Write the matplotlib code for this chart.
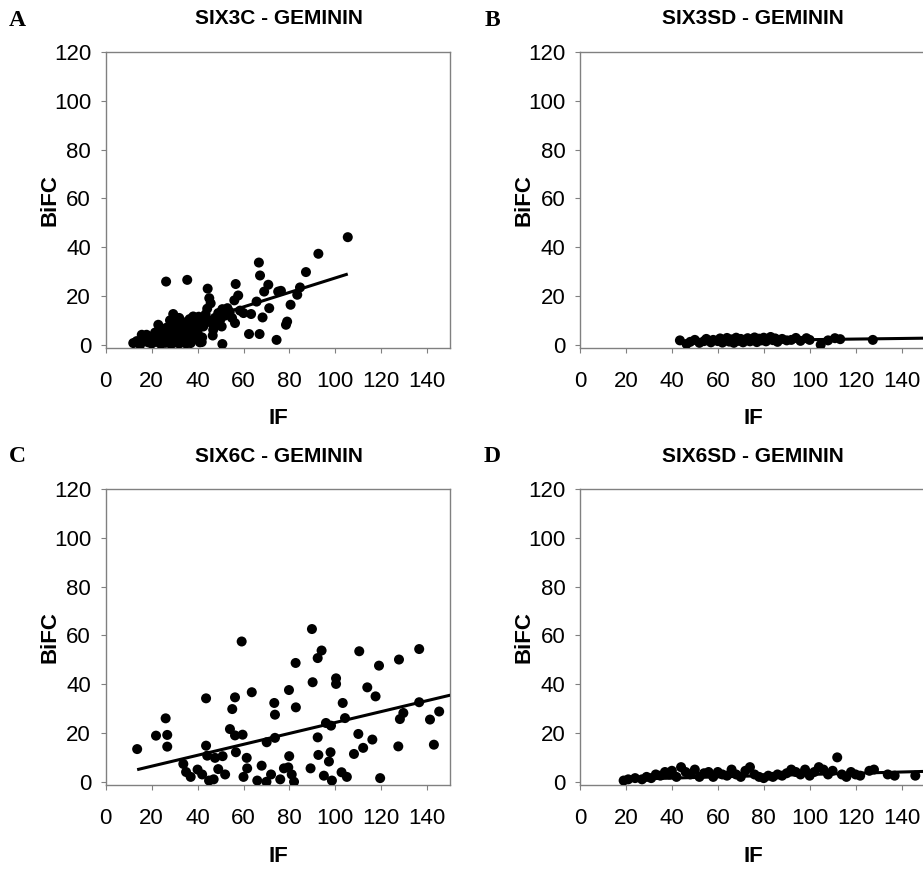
#!/usr/bin/env python3
"""BiFC versus IF scatter plots for four SIX constructs with GEMININ,
   each with a linear trendline, laid out as a 2x2 figure"""
import matplotlib.pyplot as plt

# panel A: SIX3C - GEMININ
six3c_if = [12.0, 13.5, 15.0, 15.7, 16.5, 17.8, 18.5, 19.5, 20.0, 21.0,
            21.5, 22.0, 22.9, 23.5, 24.0, 24.5, 25.0, 25.5, 26.3, 26.0,
            26.5, 27.0, 27.5, 28.0, 28.0, 28.5, 29.0, 29.4, 29.5, 30.0,
            30.5, 31.0, 31.0, 31.5, 32.0, 32.0, 32.5, 33.1, 33.5, 34.0,
            34.5, 35.0, 35.5, 35.5, 36.0, 36.5, 37.0, 37.5, 38.1, 38.5,
            39.0, 39.5, 40.0, 40.5, 41.0, 41.8, 42.0, 42.5, 43.0, 43.5,
            44.2, 44.4, 45.1, 45.7, 46.0, 46.6, 46.8, 47.5, 48.0, 49.0,
            50.0, 50.5, 50.8, 50.8, 52.0, 53.0, 54.0, 55.0, 56.0, 56.3,
            56.6, 57.7, 58.5, 60.0, 62.4, 63.3, 65.7, 66.7, 67.0, 67.2,
            68.3, 69.0, 70.8, 71.2, 75.1, 74.4, 76.3, 78.5, 79.0, 80.5,
            83.4, 84.6, 87.2, 92.6, 105.4]
six3c_bifc = [0.7, 1.5, 0.0, 4.1, 2.0, 4.1, 1.0, 3.0, 0.5, 2.5,
              5.0, 1.2, 8.2, 3.5, 0.3, 6.0, 2.0, 4.5, 25.9, 0.8,
              7.0, 3.0, 1.5, 10.0, 5.5, 0.2, 2.5, 12.6, 7.5, 4.0,
              1.0, 9.0, 6.0, 3.0, 0.5, 11.0, 7.0, 9.5, 2.0, 5.0,
              8.0, 0.5, 26.6, 3.5, 6.5, 10.5, 0.7, 4.5, 11.6, 7.0,
              2.5, 9.0, 5.0, 11.5, 1.0, 1.1, 3.0, 7.5, 10.0, 12.5,
              14.8, 23.0, 19.1, 17.0, 9.0, 3.8, 6.1, 11.0, 8.0, 13.0,
              10.5, 7.5, 0.3, 14.6, 12.0, 15.0, 13.5, 11.0, 18.2, 8.9,
              24.9, 20.2, 14.0, 13.0, 4.4, 12.6, 17.7, 33.7, 4.4, 28.4,
              11.2, 21.8, 24.6, 15.0, 21.8, 2.0, 22.1, 8.2, 9.5, 16.4,
              20.5, 23.5, 29.8, 37.3, 44.1]

# panel B: SIX3SD - GEMININ
six3sd_if = [43.5, 46.4, 48.0, 50.0, 52.0, 54.0, 55.0, 57.0, 58.0, 60.0,
             61.0, 62.0, 63.0, 64.0, 65.0, 66.0, 67.0, 68.0, 69.0, 70.0,
             71.0, 72.0, 73.0, 74.0, 75.0, 76.0, 77.0, 78.0, 79.0, 80.0,
             81.0, 82.0, 83.0, 84.0, 85.0, 86.0, 88.0, 90.0, 92.0, 94.0,
             96.0, 98.6, 100.0, 104.8, 108.0, 111.0, 113.3, 127.5]
six3sd_bifc = [1.8, 0.3, 1.2, 2.0, 0.8, 1.5, 2.4, 1.0, 2.0, 1.5,
               2.6, 0.9, 1.8, 2.8, 1.3, 2.2, 0.8, 2.9, 1.6, 2.4,
               1.0, 2.0, 2.7, 1.4, 2.2, 3.0, 1.1, 2.5, 1.8, 2.9,
               1.4, 2.3, 3.2, 1.9, 2.6, 1.2, 2.4, 1.8, 2.0, 2.8,
               1.6, 2.7, 2.0, 0.0, 1.8, 2.7, 2.3, 2.0]

# panel C: SIX6C - GEMININ
six6c_if = [13.7, 21.9, 26.1, 26.8, 26.8, 33.8, 35.0, 37.0, 40.0, 42.0,
            43.7, 43.7, 44.2, 45.0, 47.0, 47.6, 49.0, 50.9, 52.0, 54.1,
            55.1, 56.3, 56.3, 56.7, 59.2, 59.6, 60.0, 61.4, 61.6, 63.6,
            66.0, 67.9, 70.0, 70.1, 72.0, 73.4, 73.7, 73.7, 76.0, 77.6,
            79.5, 79.8, 79.9, 81.0, 82.0, 82.7, 82.8, 89.2, 89.8, 90.1,
            92.3, 92.3, 92.6, 94.0, 95.0, 95.9, 97.2, 97.9, 98.1, 98.5,
            100.3, 100.3, 102.7, 103.2, 104.2, 105.0, 108.1, 110.0, 110.4,
            112.1, 113.9, 116.1, 117.5, 119.0, 119.5, 127.4, 127.7, 128.1,
            129.6, 136.5, 136.5, 141.2, 142.9, 145.2]
six6c_bifc = [13.4, 18.9, 26.0, 19.2, 14.4, 7.3, 4.0, 2.0, 5.0, 3.0,
              34.2, 14.8, 10.7, 0.5, 1.0, 9.8, 5.2, 10.5, 3.0, 21.6,
              29.8, 34.6, 19.0, 12.1, 57.5, 19.3, 2.0, 9.8, 5.5, 36.7,
              0.5, 6.6, 0.0, 16.2, 3.0, 32.3, 27.5, 18.0, 1.0, 5.5,
              5.9, 37.6, 10.5, 3.0, 0.0, 48.7, 30.5, 5.5, 62.6, 40.8,
              50.7, 18.2, 11.0, 53.8, 2.5, 24.1, 8.3, 12.1, 23.0, 0.5,
              42.4, 40.1, 3.9, 32.3, 26.1, 2.0, 11.4, 19.6, 53.5,
              13.9, 38.7, 17.3, 35.0, 47.6, 1.5, 14.5, 50.1, 25.7,
              28.2, 54.4, 32.6, 25.5, 15.2, 28.8]

# panel D: SIX6SD - GEMININ
six6sd_if = [19, 21, 24, 27, 29, 31, 33, 35, 37, 39,
             40, 42, 44, 46, 48, 50, 52, 54, 56, 58,
             60, 62, 64, 66, 68, 70, 72, 74, 76, 78,
             80, 82, 84, 86, 88, 90, 92, 94, 96, 98,
             100, 102, 104, 106, 108, 110, 112, 114, 116, 118,
             120, 122, 126, 128, 134, 137, 146]
six6sd_bifc = [0.5, 1.0, 1.5, 1.0, 2.0, 1.5, 3.0, 2.5, 4.0, 3.0,
               4.5, 2.0, 6.0, 4.0, 3.0, 5.0, 2.0, 3.5, 4.0, 2.0,
               4.0, 3.0, 2.5, 5.0, 3.0, 2.0, 4.5, 6.0, 3.0, 2.0,
               1.5, 2.5, 2.0, 3.0, 2.5, 3.5, 5.0, 4.0, 3.0, 5.0,
               2.5, 4.0, 6.0, 5.0, 3.0, 4.5, 10.0, 3.0, 2.0, 4.0,
               3.0, 2.5, 4.5, 5.0, 3.0, 2.5, 2.5]

# trendlines: slope, intercept, x start, x end
trend_a = (0.297, -2.3, 12.0, 105.4)
trend_b = (0.012, 0.9, 43.5, 150.0)
trend_c = (0.224, 1.9, 13.7, 150.0)
trend_d = (0.025, 0.5, 19.0, 150.0)

x_ticks = [0, 20, 40, 60, 80, 100, 120, 140]
y_ticks = [0, 20, 40, 60, 80, 100, 120]

FIG_W, FIG_H = 923, 892
SANS = 'Liberation Sans'
GRAY = '#808080'


def px_box(left, top, right, bottom):
    """pixel box to figure fraction rect"""
    return [left / FIG_W, 1 - bottom / FIG_H,
            (right - left) / FIG_W, (bottom - top) / FIG_H]


def draw_panel(fig, rect, xs, ys, trend, title, letter, org):
    """one scatter panel with its trendline and labels"""
    ax = fig.add_axes(rect)
    ax.scatter(xs, ys, s=52, color='black', edgecolors='none', zorder=3)
    slope, inter, x0, x1 = trend
    ax.plot([x0, x1], [slope * x0 + inter, slope * x1 + inter],
            color='black', lw=2.2, zorder=4, solid_capstyle='butt')
    ax.set_xlim(0, 150)
    ax.set_ylim(-1.2, 120)
    ax.set_xticks(x_ticks)
    ax.set_yticks(y_ticks)
    for sp in ax.spines.values():
        sp.set_color(GRAY)
        sp.set_linewidth(1.0)
    ax.tick_params(direction='out', length=3.5, width=0.8, color=GRAY,
                   labelsize=16)
    ax.tick_params(axis='x', pad=13)
    ax.tick_params(axis='y', pad=7)
    for lab in ax.get_xticklabels() + ax.get_yticklabels():
        lab.set_fontfamily(SANS)
    ox, oy = org
    fig.text((ox + 173) / FIG_W, 1 - (oy + 19) / FIG_H, title,
             ha='center', va='center', fontsize=15, fontweight='bold',
             family=SANS)
    fig.text((ox - 88) / FIG_W, 1 - (oy + 20) / FIG_H, letter,
             ha='center', va='center', fontsize=17, fontweight='bold',
             family='Liberation Serif')
    fig.text((ox - 56) / FIG_W, 1 - (oy + 200) / FIG_H, 'BiFC',
             ha='center', va='center', rotation=90, fontsize=16,
             fontweight='bold', family=SANS)
    fig.text((ox + 173) / FIG_W, 1 - (oy + 419) / FIG_H, 'IF',
             ha='center', va='center', fontsize=16, fontweight='bold',
             family=SANS)
    return ax


def main():
    """builds the four panels and writes out.png"""
    fig = plt.figure(figsize=(FIG_W / 100, FIG_H / 100), dpi=100)
    row_gap = 437.0
    left_a, left_b = 105.7, 580.0
    width = 344.5
    top, bottom = 52.0, 347.7
    draw_panel(fig, px_box(left_a, top, left_a + width, bottom),
               six3c_if, six3c_bifc, trend_a, 'SIX3C - GEMININ', 'A',
               (left_a, 0))
    draw_panel(fig, px_box(left_b, top, left_b + width, bottom),
               six3sd_if, six3sd_bifc, trend_b, 'SIX3SD - GEMININ', 'B',
               (left_b, 0))
    draw_panel(fig, px_box(left_a, top + row_gap, left_a + width,
                           bottom + row_gap),
               six6c_if, six6c_bifc, trend_c, 'SIX6C - GEMININ', 'C',
               (left_a, row_gap))
    draw_panel(fig, px_box(left_b, top + row_gap, left_b + width,
                           bottom + row_gap),
               six6sd_if, six6sd_bifc, trend_d, 'SIX6SD - GEMININ', 'D',
               (left_b, row_gap))
    fig.savefig('out.png', dpi=100)
    plt.close(fig)


if __name__ == "__main__":
    main()
